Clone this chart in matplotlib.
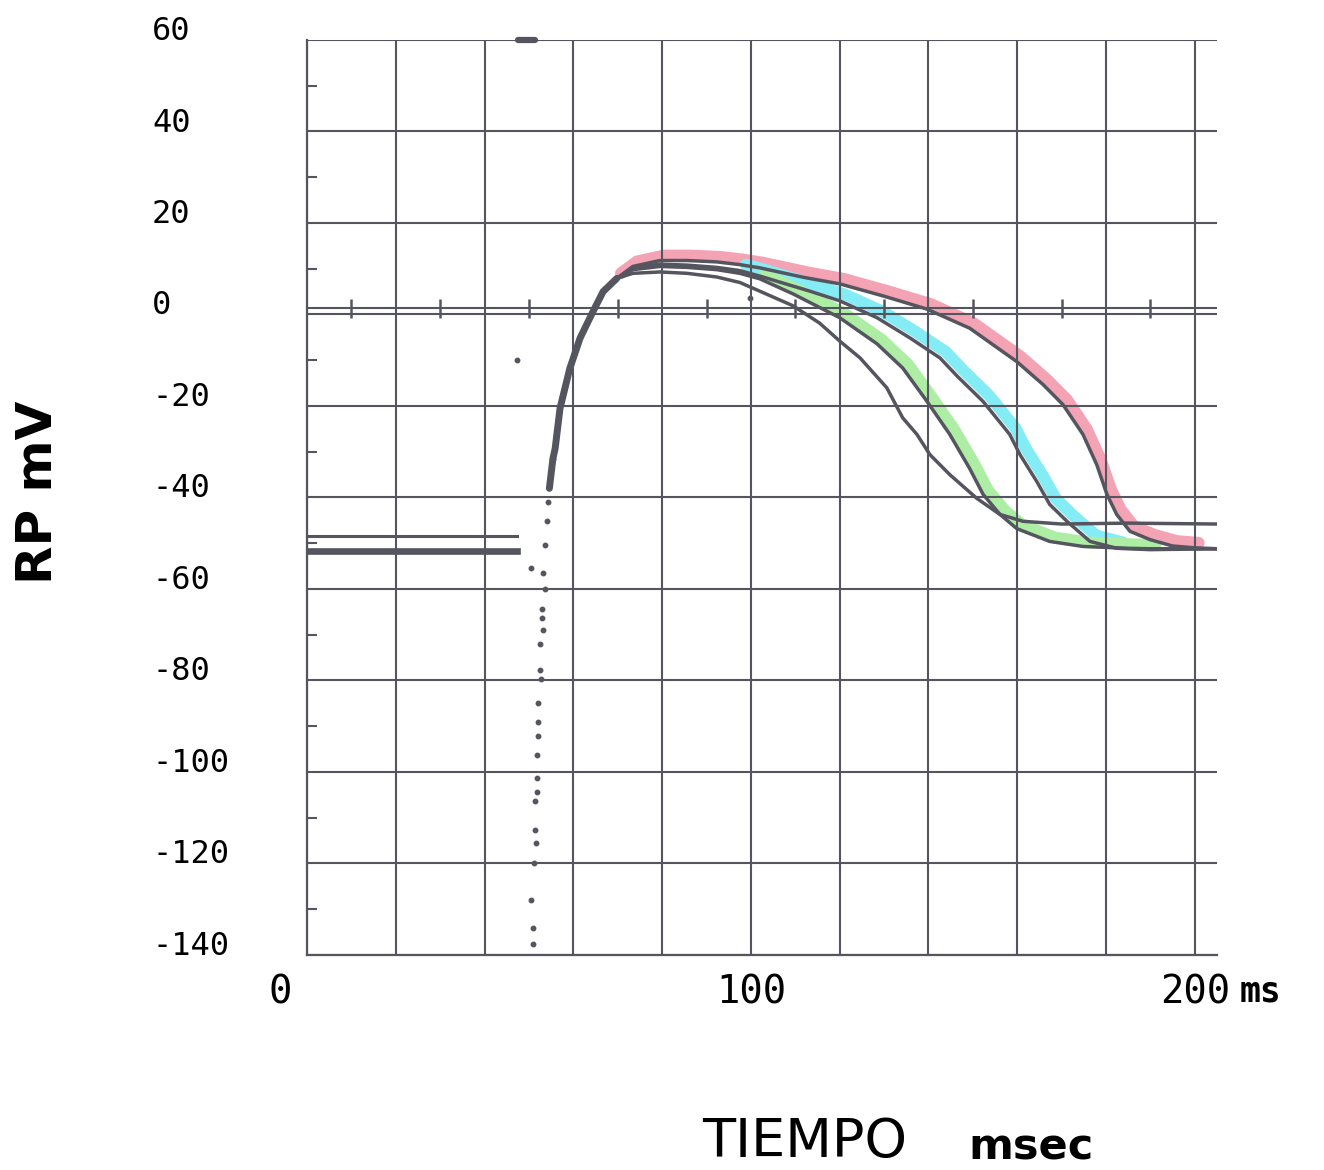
import matplotlib
matplotlib.use("Agg")
import matplotlib.pyplot as plt
import matplotlib.transforms as mtransforms
import numpy as np

# ---------------- data ----------------
# resting potential before stimulus (ms, mV)
rest_t = [0.0, 47.3]
rest_upper_v = [-48.5, -48.5]
rest_lower_v = [-51.6, -51.6]

# sparsely sampled fast upstroke (dots)
dots_t = [55.4, 54.3, 54.1, 53.6, 53.2, 53.6, 52.9, 52.9, 53.2, 52.5, 52.5, 52.7,
          52.0, 52.0, 52.0, 51.8, 51.8, 51.8, 51.4, 51.4, 51.6, 51.1, 50.5, 50.9, 50.9,
          47.3, 50.5, 99.8]
dots_v = [-31.5, -40.9, -45.2, -50.3, -56.6, -59.9, -64.3, -66.4, -68.9, -72.1, -77.6, -79.6,
          -85.0, -89.0, -92.2, -96.2, -101.4, -104.3, -106.4, -112.6, -115.6, -120.0, -127.9,
          -134.2, -137.7, -10.0, -55.5, 3.5]

# common upstroke (solid)
up_t = [54.6, 55.4, 55.9, 57.0, 59.2, 61.5, 64.2, 66.7, 69.8]
up_v = [-38.0, -31.5, -29.3, -20.5, -11.8, -5.2, 0.2, 5.0, 7.9]

# four action potential traces
pink_t = [69.8, 73.4, 79.5, 85.6, 92.3, 97.5, 102, 112, 120, 130, 139.6, 149.3, 159.9,
          165.8, 170.3, 174.8, 177.9, 180.2, 182.4, 185.4, 189.9, 195, 200, 205]
pink_v = [7.9, 10.5, 11.8, 11.8, 11.5, 10.9, 10.2, 8.1, 6.7, 4.0, 1.2, -3.0, -10.3,
          -15.3, -19.7, -26.2, -32.8, -39.3, -43.7, -47.4, -49.2, -50.6, -51.0, -51.2]

cyan_t = [69.8, 73.4, 79.5, 85.6, 92.3, 97.5, 102, 113.3, 120, 128.4, 135.8, 142.6, 146.5,
          152.3, 158.3, 160.6, 164.4, 167.3, 171.2, 176.4, 182.4, 190, 205]
cyan_v = [7.9, 10.2, 11.0, 10.8, 10.3, 9.6, 8.4, 5.1, 3.0, -0.7, -5.1, -9.5, -13.5,
          -19.0, -26.2, -30.6, -36.5, -41.5, -45.2, -49.6, -51.1, -51.4, -51.2]

green_t = [69.8, 73.4, 79.5, 85.6, 92.3, 97.5, 102, 109.5, 120, 128.4, 134.2, 139.6, 144.8,
           149.3, 152.3, 156.1, 159.9, 167.3, 174.8, 185, 190, 205]
green_v = [7.9, 9.8, 10.5, 10.3, 9.8, 9.0, 7.8, 4.5, -0.7, -6.4, -11.7, -18.9, -26.2,
           -33.7, -39.3, -43.7, -46.8, -49.6, -50.7, -51.1, -51.2, -51.2]

low_t = [69.8, 73.4, 79.5, 85.6, 92.3, 97.5, 102, 109.5, 115.5, 120, 124.6, 130.6, 134.2,
         137.4, 140.3, 144.8, 150.9, 156.1, 161.3, 170, 185, 205]
low_v = [7.9, 9.0, 9.3, 9.0, 8.2, 7.0, 5.1, 1.9, -1.9, -5.8, -9.5, -16.0, -22.6,
         -26.2, -30.6, -35.0, -40.2, -43.7, -45.2, -45.8, -45.6, -45.8]

# highlighted time spans (ms)
pink_span = (69.8, 200)
cyan_span = (97.5, 182.4)
green_span = (102, 190)

# axis ticks
x_ticks = list(range(0, 201, 20))
x_ticklabels = ['0', '', '', '', '', '100', '', '', '', '', '200']
y_ticks = list(range(-140, 61, 20))
y_ticklabels = ['-140', '-120', '-100', '-80', '-60', '-40', '-20', '0', '20', '40', '60']
y_minor = list(range(-130, 60, 20))
zero_marks_t = list(range(10, 200, 20))
zero_ref_v = 1.4
stim_mark_t = [47.6, 51.4]
stim_mark_v = [60, 60]

# ---------------- style ----------------
DARK = '#55555f'
PINK = '#f4a3b4'
CYAN = '#84ecf4'
GREEN = '#aeeea4'

fig = plt.figure(figsize=(13.24, 11.70), dpi=100)
ax = fig.add_axes([307 / 1324, 1 - 955 / 1170, (1217 - 307) / 1324, (955 - 40) / 1170])
ax.set_xlim(0, 205)
ax.set_ylim(-140, 60)

for s in ['top', 'right']:
    ax.spines[s].set_visible(False)
for s in ['left', 'bottom']:
    ax.spines[s].set_color(DARK)
    ax.spines[s].set_linewidth(1.6)

ax.set_axisbelow(True)
ax.grid(True, which='major', color=DARK, lw=1.5)

ax.set_xticks(x_ticks)
ax.set_xticklabels(x_ticklabels, fontfamily='DejaVu Sans Mono', fontsize=28, color='black')
ax.set_yticks(y_ticks)
ax.set_yticklabels(y_ticklabels, fontfamily='DejaVu Sans Mono', fontsize=23, color='black',
                   ha='left', va='baseline')
ax.set_yticks(y_minor, minor=True)
ax.tick_params(axis='x', which='major', length=0, pad=13)
ax.tick_params(axis='y', which='major', length=0, pad=111.6)
ax.tick_params(axis='y', which='minor', direction='in', length=7, width=1.5, color=DARK)

# shift the "0" x label to the left, as in the original
lbl0 = ax.get_xticklabels()[0]
lbl0.set_transform(lbl0.get_transform() +
                   mtransforms.ScaledTranslation(-27 / 100, 0, fig.dpi_scale_trans))

# zero reference line with its marks
ax.axhline(zero_ref_v, color=DARK, lw=1.5, zorder=0.6)
ax.vlines(zero_marks_t, -0.7, 3.4, color=DARK, lw=1.8, zorder=0.6)
ax.plot(stim_mark_t, stim_mark_v, color=DARK, lw=4.5, solid_capstyle='round', clip_on=False)


def band(t, v, span, color, dx, dy):
    t = np.asarray(t)
    v = np.asarray(v)
    m = (t >= span[0]) & (t <= span[1])
    tr = ax.transData + mtransforms.ScaledTranslation(dx / 100, dy / 100, fig.dpi_scale_trans)
    ax.plot(t[m], v[m], color=color, lw=8.5, solid_capstyle='round',
            solid_joinstyle='round', transform=tr, zorder=0.3)


band(pink_t, pink_v, pink_span, PINK, 4, 5)
band(cyan_t, cyan_v, cyan_span, CYAN, 6, 6)
band(green_t, green_v, green_span, GREEN, 5, 4)

lw = 2.5
ax.plot(rest_t, rest_upper_v, color=DARK, lw=2.2, zorder=3)
ax.plot(rest_t, rest_lower_v, color=DARK, lw=4.8, zorder=3)
ax.plot(up_t, up_v, color=DARK, lw=5, solid_capstyle='round', solid_joinstyle='round', zorder=3)
for t, v in [(pink_t, pink_v), (cyan_t, cyan_v), (green_t, green_v), (low_t, low_v)]:
    ax.plot(t, v, color=DARK, lw=lw, solid_joinstyle='round', zorder=3)
ax.plot(dots_t, dots_v, ls='none', marker='o', ms=3.2, color=DARK, zorder=3)

# labels
fig.text(38 / 1324, 1 - 492 / 1170, 'RP mV', rotation=90, ha='center', va='center',
         fontsize=36, fontweight='bold', color='black')
fig.text(1240 / 1324, 1 - 992 / 1170, 'ms', ha='left', va='center', fontsize=25,
         fontweight='bold', color='black', fontfamily='DejaVu Sans Mono')
fig.text(805 / 1324, 1 - 1142 / 1170, 'TIEMPO', ha='center', va='center', fontsize=39,
         color='black')
fig.text(968 / 1324, 1 - 1148 / 1170, 'msec', ha='left', va='center', fontsize=31,
         fontweight='bold', color='black')

fig.savefig('out.png', dpi=100, facecolor='white')
